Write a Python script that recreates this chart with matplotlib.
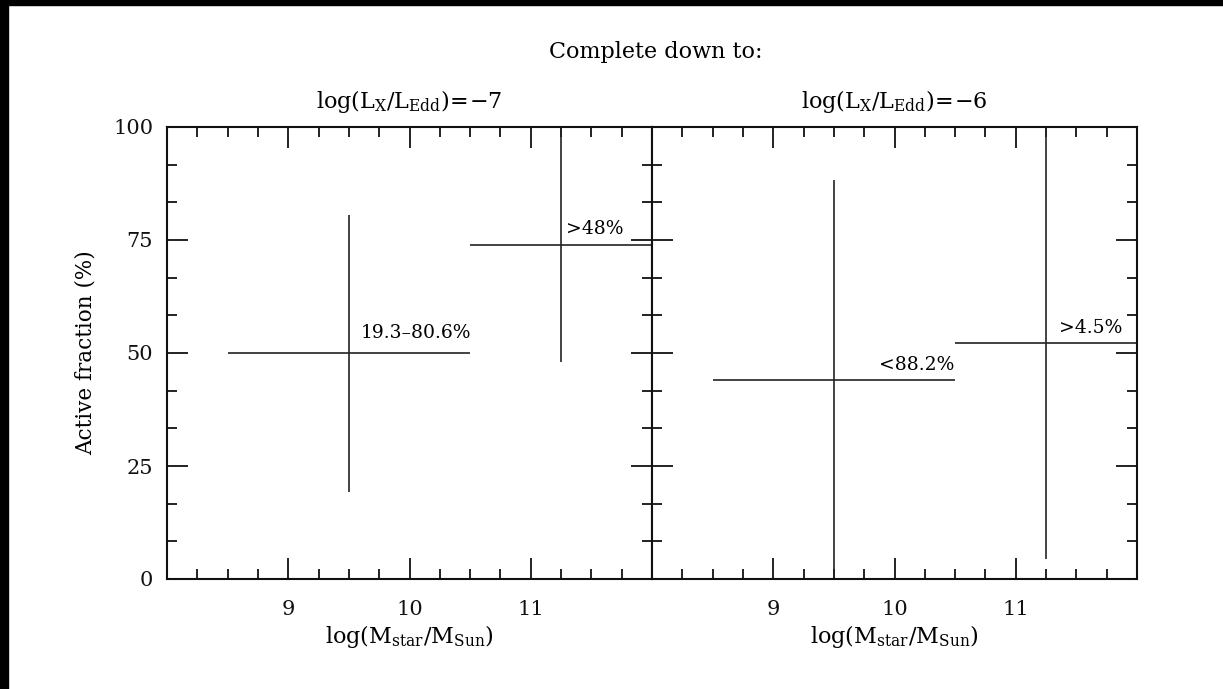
import matplotlib
matplotlib.use("Agg")
import matplotlib.pyplot as plt
from matplotlib.patches import Rectangle
from matplotlib.ticker import MultipleLocator, FixedLocator

plt.rcParams['font.family'] = ['DejaVu Serif']
plt.rcParams['mathtext.fontset'] = 'dejavuserif'

# Mass bins (log M_star/M_sun): bin edges and bin centres
bin_lo = [8.5, 10.5]
bin_hi = [10.5, 12.0]
bin_mid = [9.5, 11.25]

# Active-fraction ranges (%) for each completeness limit
lower_m7 = [19.3, 48.0]
upper_m7 = [80.6, 100.0]
lower_m6 = [0.0, 4.5]
upper_m6 = [88.2, 100.0]

labels_m7 = ["19.3\u201380.6%", ">48%"]
labels_m6 = ["<88.2%", ">4.5%"]

titles = [r"$\mathrm{log(L_X/L_{Edd})\!=\!{-}7}$", r"$\mathrm{log(L_X/L_{Edd})\!=\!{-}6}$"]

W, H = 1223, 689
fig = plt.figure(figsize=(W / 100, H / 100), dpi=100)

ax_l = fig.add_axes([167 / W, (H - 579) / H, 485 / W, 452 / H])
ax_r = fig.add_axes([652 / W, (H - 579) / H, 485 / W, 452 / H])

lc = "#222222"
panels = [
    (ax_l, lower_m7, upper_m7, labels_m7),
    (ax_r, lower_m6, upper_m6, labels_m6),
]

for ax, lo, hi, _ in panels:
    for i in range(len(bin_mid)):
        mid_y = (lo[i] + hi[i]) / 2
        ax.plot([bin_lo[i], bin_hi[i]], [mid_y, mid_y], color=lc, lw=1.2,
                solid_capstyle='butt', clip_on=False)
        ax.plot([bin_mid[i], bin_mid[i]], [lo[i], hi[i]], color=lc, lw=1.2,
                solid_capstyle='butt', clip_on=False)

# Range annotations
fs_ann = 13.5
ax_l.text(9.60, 52.4, labels_m7[0], fontsize=fs_ann, ha='left', va='bottom')
ax_l.text(11.29, 75.4, labels_m7[1], fontsize=fs_ann, ha='left', va='bottom')
ax_r.text(10.49, 45.4, labels_m6[0], fontsize=fs_ann, ha='right', va='bottom')
ax_r.text(11.88, 53.5, labels_m6[1], fontsize=fs_ann, ha='right', va='bottom')

for k, ax in enumerate([ax_l, ax_r]):
    ax.set_xlim(8, 12)
    ax.set_ylim(0, 100)
    ax.xaxis.set_major_locator(FixedLocator([9, 10, 11]))
    ax.xaxis.set_minor_locator(MultipleLocator(0.25))
    ax.yaxis.set_major_locator(MultipleLocator(25))
    ax.yaxis.set_minor_locator(MultipleLocator(25 / 3))
    ax.tick_params(which='both', direction='in', top=True, right=True,
                   width=1.3, colors='#111111')
    ax.tick_params(which='major', length=15)
    ax.tick_params(which='minor', length=7.5)
    ax.tick_params(axis='x', which='major', labelsize=15, pad=15)
    ax.tick_params(axis='y', which='major', labelsize=15, pad=10)
    for s in ax.spines.values():
        s.set_linewidth(1.5)
        s.set_color('#111111')
    ax.set_xlabel(r"$\mathrm{log(M_{star}/M_{Sun})}$", fontsize=16, labelpad=3)
    ax.set_title(titles[k], fontsize=16, pad=14)

ax_r.tick_params(axis='y', labelleft=False)
ax_l.set_ylabel("Active fraction (%)", fontsize=15.5, labelpad=12)

fig.text(656 / W, 1 - 52 / H, "Complete down to:", fontsize=16,
         ha='center', va='center')

# Dark frame strips along top and left edges
fig.patches.append(Rectangle((0, 0), 8 / W, 1, transform=fig.transFigure,
                             color='black', zorder=10))
fig.patches.append(Rectangle((0, 1 - 5 / H), 1, 5 / H, transform=fig.transFigure,
                             color='black', zorder=10))

fig.savefig("out.png", dpi=100)
